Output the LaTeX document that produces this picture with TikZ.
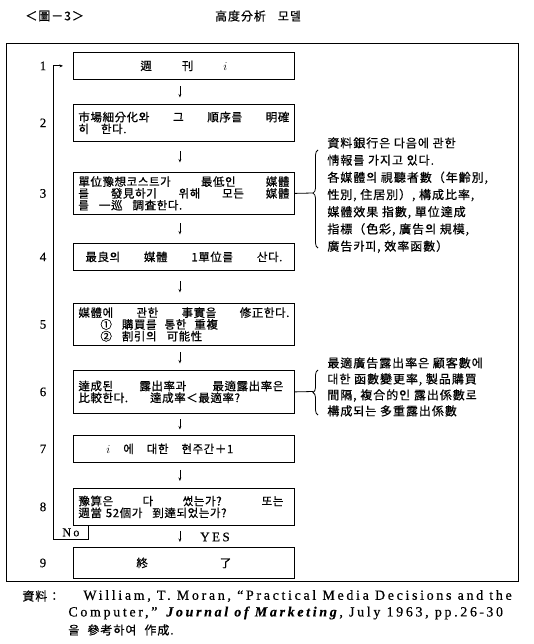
\documentclass[tikz,border=0pt]{standalone}
\usepackage{fontspec}
\usepackage{tikz}
\usetikzlibrary{positioning,arrows.meta,calc,decorations.pathreplacing}
\newfontfamily\kr[LetterSpace=8,FakeBold=0.6]{Noto Sans CJK KR}
\newfontfamily\krbox[LetterSpace=5,FakeBold=0.6]{Noto Sans CJK KR}
\newfontfamily\enserif[LetterSpace=19,FakeBold=0.5]{Liberation Serif}
\newcommand{\jline}[2][211pt]{{\spaceskip=0.3em plus 1fil\makebox[#1][s]{#2}}}

\begin{document}
\begin{tikzpicture}[
  x=1pt, y=-1pt,
  >={Stealth[length=3.5pt,width=2.8pt]},
  line width=0.8pt,
  flowbox/.style={draw, text width=211pt, inner xsep=5pt, inner ysep=2pt, anchor=north west, align=left, font=\krbox\fontsize{11.5}{11.8}\selectfont},
  midbox/.style={flowbox, align=center},
  flowarr/.style={->, line width=0.6pt, shorten <=#1, shorten >=#1},
  stepno/.style={font=\enserif\fontsize{13}{13}\selectfont, inner sep=0pt},
  infotxt/.style={anchor=north west, inner sep=0pt, align=left},
  infobrace/.style={decorate, decoration={brace, amplitude=5pt, aspect=#1}},
  srctxt/.style={anchor=west, inner sep=0pt}
]
\useasboundingbox (0,0) rectangle (534,644);

% heading
\node[srctxt, font=\kr\fontsize{12}{12}\selectfont] (fig) at (25,16) {＜圖－3＞};
\node[font=\kr\fontsize{12}{12}\selectfont] (title) at (258,16) {高度分析\hspace{12pt}모델};

% frame
\draw (6,43) rectangle (518,581);

% steps
\node[midbox, minimum height=27pt] (b1) at (73,52) {週\hspace{30pt}刊\hspace{30pt}$i$};
\node[flowbox, minimum height=37pt] (b2) at (73,104) {\jline{市場細分化와 그 順序를 明確}\\히\hspace{12pt}한다.};
\node[flowbox, minimum height=42pt] (b3) at (73,172) {\jline{單位豫想코스트가 最低인 媒體}\\\jline{를 發見하기 위해 모든 媒體}\\를\hspace{10pt}一巡\hspace{10pt}調査한다.};
\node[midbox, minimum height=27pt] (b4) at (73,243) {\jline[197pt]{最良의 媒體 1單位를 산다.}};
\node[flowbox, minimum height=42pt] (b5) at (73,303) {\jline{媒體에 관한 事實을 修正한다.}\\\hspace*{22pt}①\hspace{10pt}購買를\hspace{8pt}통한\hspace{8pt}重複\\\hspace*{22pt}②\hspace{10pt}割引의\hspace{10pt}可能性};
\node[flowbox, minimum height=43pt] (b6) at (73,370) {\jline[205pt]{達成된 露出率과 最適露出率은}\\比較한다.\hspace{22pt}達成率＜最適率?};
\node[flowbox, minimum height=27pt] (b7) at (73,435) {\hspace*{28pt}\jline[127pt]{$i$ 에 대한 현주간＋1}};
\node[flowbox, minimum height=37pt] (b8) at (73,488) {\jline[205pt]{豫算은 다 썼는가?\hspace{40pt}또는}\\週當 52個가\hspace{10pt}到達되었는가?};
\node[midbox, minimum height=31pt] (b9) at (73,547) {\jline[95pt]{終 了}};

\coordinate (numx) at (43,0);
\foreach \n in {1,...,9}
  \node[stepno] at (b\n.west -| numx) {\n};

\foreach \a/\b/\s in {1/2/6.5pt, 2/3/9.5pt, 3/4/8.5pt, 4/5/10.5pt, 5/6/6.5pt, 6/7/5.5pt, 7/8/7pt, 8/9/5pt}
  \draw[flowarr=\s] ([xshift=-4pt]b\a.south) -- ([xshift=-4pt]b\b.north);
\node[stepno, font=\enserif\fontsize{13}{13}\selectfont] (yes) at (215,537) {YES};

% loop back
\node[minimum width=35pt, minimum height=14pt, inner sep=0pt, anchor=north west, font=\enserif\fontsize{12}{12}\selectfont] (nobox) at (53,525) {No};
\draw (nobox.south west) -- (nobox.south east) -- (nobox.north east);
\draw[->, shorten >=10pt] (nobox.south west) |- (b1.west);

% right: notes
\node[infotxt, font=\kr\fontsize{12}{17.2}\selectfont] (info1) at (327,137)
{資料銀行은 다음에 관한\\情報를 가지고 있다.\\各媒體의 視聽者數（年齡別,\\性別, 住居別）, 構成比率,\\媒體效果 指數, 單位達成\\指標（色彩, 廣告의 規模,\\廣告카피, 效率函數）};
\draw[infobrace=0.56] (318,248) -- (318,150);
\coordinate (tip1) at (313,193);
\draw (b3.east) -- (tip1);

\node[infotxt, font=\kr\fontsize{12}{16}\selectfont] (info2) at (327,357)
{最適廣告露出率은 顧客數에\\대한 函數變更率, 製品購買\\間隔, 複合的인 露出係數로\\構成되는 多重露出係數};
\draw[infobrace=0.5] (318,415) -- (318,370);
\coordinate (tip2) at (313,391.5);
\draw (b6.east) -- (tip2);

% source
\node[srctxt, font=\kr\fontsize{12}{12}\selectfont] (src0) at (22,596) {資料：};
\node[srctxt, font=\enserif\fontsize{14}{14}\selectfont] (src1) at (83,596) {William, T. Moran, “Practical Media Decisions and the};
\node[srctxt, font=\enserif\fontsize{14}{14}\selectfont] (src2) at (68,613) {Computer,” \textbf{\textit{Journal of Marketing}}, July 1963, pp.26\,-\,30};
\node[srctxt, font=\kr\fontsize{12}{12}\selectfont] (src3) at (68,630) {을\hspace{8pt}參考하여\hspace{8pt}作成.};

\end{tikzpicture}
\end{document}
